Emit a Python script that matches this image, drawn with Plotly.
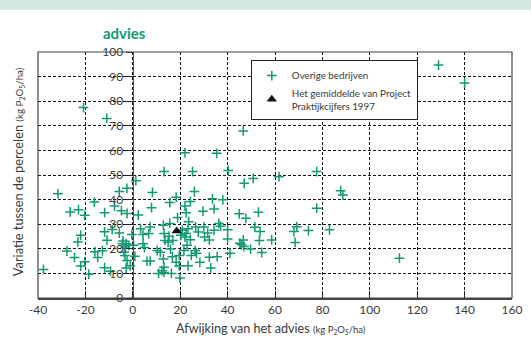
import plotly.graph_objects as go

# Overige bedrijven: afwijking (x) en variatie (y)
overige_x = [
    -31.6, -37.7, -26.4, -22.9, -20.3, -16.2, -11.9, -22.0, -23.2, -11.9, -8.7, -10.9,
    -27.8, -24.6, -22.0, -20.3, -18.6, -16.0, -14.8, -12.8, -11.9, -9.4,
    -2.5, 8.3, 26.0, -5.7, -7.7, -4.8, -2.4, 2.3, 7.9, 15.6, 18.3, 22.0, 22.5, 24.3,
    29.6, 33.6, 34.3, 38.0, 18.9,
    -5.7, -0.4, 3.3, 4.3, 7.3, 6.7, 12.9, 15.6, 13.2, 13.6, 14.9, 16.9, 15.3, 20.9,
    23.3, 23.6, 22.5, 22.0, 20.3, 24.3, 26.5, 27.6, 30.0, 30.3, 31.6, 34.3, 36.3, 37.0,
    40.0, 40.0, 32.3,
    -4.1, -2.8, -4.4, -3.1, -1.7, 0.3, -3.7, -3.3, -2.4, 0.9, -1.1, -2.8, 4.3, 4.9,
    6.0, 7.3, 10.3, 11.6, 12.9, 13.2, 12.3, 13.2, 10.9, 16.3, 15.9, 16.7, 18.3, 19.6,
    19.6, 19.9, 21.6, 22.9, 23.3, 24.7, 26.3, 26.9, 28.3, 32.3, 32.9, 35.6,
    1.3, 13.2, 22.0, 25.2, 35.4,
    40.3, 47.0, 50.8, 61.7, 77.6, 87.7, 88.6, 77.6, 44.9, 47.7, 53.0, 51.5, 53.7, 53.4,
    45.2, 46.6, 45.9, 46.9, 49.7, 54.4, 41.0, 58.6, 68.0, 69.2, 68.5, 74.1, 83.0, 112.5,
    -20.8, -11.0, 46.6, 129.0, 140.0,
]
overige_y = [
    42.4, 11.6, 35.0, 35.9, 33.6, 39.0, 34.7, 25.5, 22.8, 26.9, 27.8, 23.5,
    19.1, 16.5, 13.0, 14.7, 9.7, 18.8, 16.5, 19.2, 12.3, 10.9,
    44.6, 42.9, 43.3, 43.3, 37.4, 35.5, 34.4, 33.7, 36.7, 38.8, 41.0, 37.4, 34.7, 39.2,
    35.3, 40.3, 36.2, 39.9, 32.7,
    26.4, 25.8, 28.2, 25.8, 28.9, 26.2, 29.6, 30.3, 26.2, 23.4, 22.7, 23.4, 25.1, 27.5,
    28.2, 31.0, 26.2, 24.8, 25.5, 23.7, 28.9, 26.8, 28.9, 24.8, 26.4, 27.5, 30.3, 29.2,
    27.7, 24.0, 23.6,
    23.2, 22.1, 22.1, 20.7, 21.4, 21.4, 18.6, 17.3, 15.2, 17.0, 13.1, 12.2, 22.1, 20.5,
    15.0, 15.0, 19.3, 18.6, 15.9, 12.5, 11.1, 10.4, 10.0, 10.0, 19.9, 16.8, 14.5, 17.3,
    13.1, 8.1, 19.3, 21.4, 13.1, 17.3, 19.3, 18.2, 14.5, 16.6, 12.2, 16.8,
    47.7, 51.4, 59.0, 51.4, 58.8,
    51.8, 46.6, 48.6, 49.3, 51.4, 43.6, 41.9, 36.5, 34.2, 32.4, 34.9, 28.8, 27.0, 23.4,
    22.3, 23.6, 21.6, 20.9, 19.9, 18.5, 18.2, 23.6, 27.0, 29.0, 22.6, 27.4, 27.7, 16.2,
    77.4, 73.0, 67.9, 94.7, 87.4,
]

# Het gemiddelde van Project Praktijkcijfers 1997
gemiddelde_x = [18.5]
gemiddelde_y = [27.2]

x_ticks = [-40, -20, 0, 20, 40, 60, 80, 100, 120, 140, 160]
y_ticks = [0, 10, 20, 30, 40, 50, 60, 70, 80, 90, 100]

GREEN = "#139a74"
FONT = "Lato"
TXT = "#3a3a3a"

fig = go.Figure()
fig.add_trace(go.Scatter(
    x=overige_x, y=overige_y, mode="markers", name="Overige bedrijven",
    marker=dict(symbol="cross-thin", size=7, color=GREEN,
                line=dict(color=GREEN, width=1.5)),
    cliponaxis=False,
))
fig.add_trace(go.Scatter(
    x=gemiddelde_x, y=gemiddelde_y, mode="markers",
    name="Het gemiddelde van Project<br>Praktijkcijfers 1997",
    marker=dict(symbol="triangle-up", size=9, color="#111111"),
))

fig.update_layout(
    width=531, height=344,
    margin=dict(l=38, r=19, t=52, b=46, autoexpand=False),
    paper_bgcolor="white", plot_bgcolor="white",
    font=dict(family=FONT, size=12, color=TXT),
    showlegend=True,
    legend=dict(
        x=0.449, y=0.967, xanchor="left", yanchor="top",
        bgcolor="white", bordercolor="#222", borderwidth=1,
        font=dict(family=FONT, size=9.8, color=TXT),
        tracegroupgap=2, itemwidth=30,
    ),
    xaxis=dict(
        range=[-40, 160], tickvals=x_ticks, ticktext=[str(v) for v in x_ticks],
        ticks="inside", ticklen=7, tickcolor="#222", tickwidth=1,
        showline=True, linecolor="#444", linewidth=1.5,
        showgrid=True, gridcolor="#111", griddash="3px,2px", gridwidth=1,
        zeroline=False, tickfont=dict(size=12, color=TXT),
        automargin=False,
    ),
    yaxis=dict(
        range=[0, 100], tickvals=y_ticks, ticktext=[str(v) for v in y_ticks],
        anchor="free", position=0.2,
        ticks="outside", ticklen=7, tickcolor="#222", tickwidth=1,
        showline=True, linecolor="#555", linewidth=1.3,
        showgrid=True, gridcolor="#111", griddash="3px,2px", gridwidth=1,
        zeroline=False, tickfont=dict(size=12, color=TXT),
        automargin=False,
    ),
    shapes=[
        dict(type="rect", xref="paper", yref="paper", x0=-0.09, x1=1.05,
             y0=1.171, y1=1.22, fillcolor="#d4e9e1", line=dict(width=0),
             layer="below"),
        dict(type="rect", xref="paper", yref="paper", x0=0, x1=1, y0=0, y1=1,
             line=dict(color="#444", width=1.2), fillcolor="rgba(0,0,0,0)"),
    ],
    annotations=[
        dict(text="<b>advies</b>", xref="paper", yref="paper", x=0.1835, y=1.077,
             xanchor="center", yanchor="middle",
             showarrow=False, font=dict(family=FONT, size=15, color=GREEN)),
        dict(text="Afwijking van het advies <span style='font-size:9.5px'>(kg P<sub>2</sub>O<sub>5</sub>/ha)</span>",
             xref="paper", yref="paper", x=0.4916, y=-0.122,
             xanchor="center", yanchor="middle",
             showarrow=False, font=dict(family=FONT, size=12.6, color=TXT)),
        dict(text="Variatie tussen de percelen <span style='font-size:9.8px'>(kg P<sub>2</sub>O<sub>5</sub>/ha)</span>",
             xref="paper", yref="paper", x=-0.042, y=0.512, textangle=-90,
             xanchor="center", yanchor="middle",
             showarrow=False, font=dict(family=FONT, size=12.8, color=TXT)),
    ],
)

fig.write_html("out.html", config={"displayModeBar": False},
               post_script="document.body.style.margin='0';")
